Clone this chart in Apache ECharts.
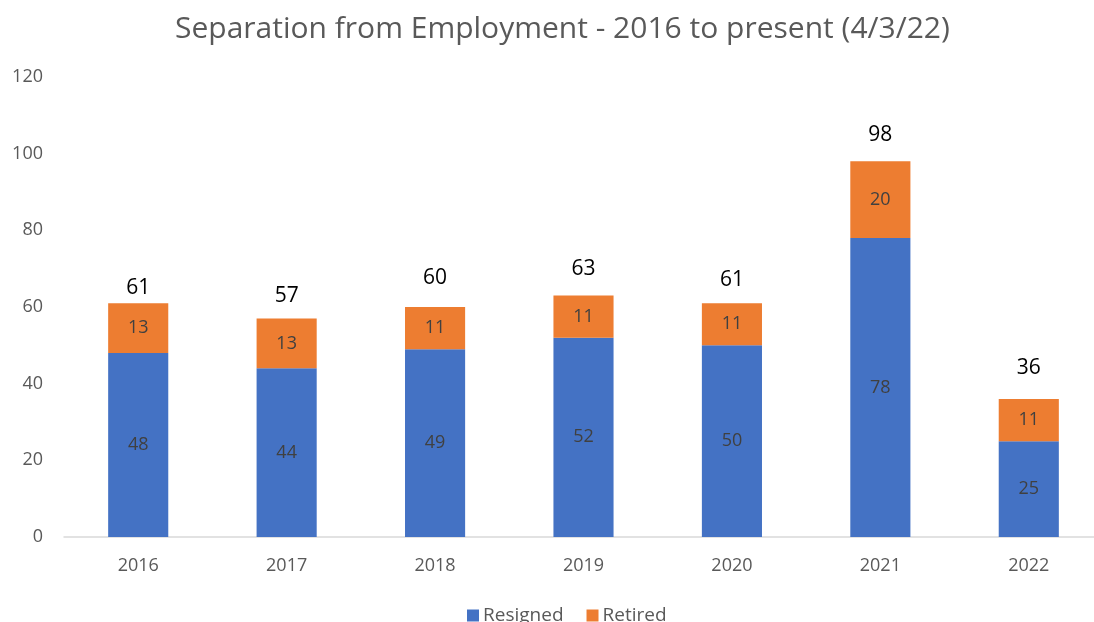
<!DOCTYPE html>
<html>
<head>
<meta charset="utf-8">
<script src="https://cdn.jsdelivr.net/npm/echarts@6/dist/echarts.min.js"></script>
<style>html,body{margin:0;padding:0;background:#fff}#c{width:1094px;height:622px}</style>
</head>
<body>
<div id="c"></div>
<script>
const title = 'Separation from Employment - 2016 to present (4/3/22)';
const categories = ['2016', '2017', '2018', '2019', '2020', '2021', '2022'];
const resigned = [48, 44, 49, 52, 50, 78, 25];
const retired = [13, 13, 11, 11, 11, 20, 11];
const totals = [61, 57, 60, 63, 61, 98, 36];
const yTicks = { min: 0, max: 120, interval: 20 };
// per-bar gap (px) of the total label above each bar, as placed in the original
const totalLabelGap = [17, 24, 30, 28, 25, 28, 32];

const FONT = '"Open Sans", sans-serif';
const chart = echarts.init(document.getElementById('c'), null, { renderer: 'canvas' });
chart.setOption({
  animation: false,
  textStyle: { fontFamily: FONT },
  title: {
    text: title, left: 170, top: 9,
    textStyle: { fontFamily: FONT, fontSize: 30, fontWeight: 'normal', color: '#595959' }
  },
  legend: {
    data: ['Resigned', 'Retired'], top: 601, left: 462,
    itemWidth: 12, itemHeight: 12, itemGap: 23,
    icon: 'rect',
    textStyle: { fontFamily: FONT, fontSize: 19, color: '#595959', padding: [0, 0, 0, -1] }
  },
  grid: { left: 64, top: 77, bottom: 85, right: -9, outerBoundsMode: 'none', containLabel: false },
  xAxis: {
    type: 'category', data: categories,
    axisLine: { lineStyle: { color: '#d9d9d9', width: 1.5 } },
    axisTick: { show: false },
    axisLabel: { fontFamily: FONT, fontSize: 18, color: '#595959', margin: 20 }
  },
  yAxis: {
    type: 'value', min: yTicks.min, max: yTicks.max, interval: yTicks.interval,
    splitLine: { show: false },
    axisLine: { show: false }, axisTick: { show: false },
    axisLabel: { fontFamily: FONT, fontSize: 18, color: '#595959', margin: 21 }
  },
  series: [
    {
      name: 'Resigned', type: 'bar', stack: 's', data: resigned, barWidth: '40.5%',
      itemStyle: { color: '#4472C4' },
      label: { show: true, position: 'inside', fontFamily: FONT, fontSize: 18, color: '#404040' }
    },
    {
      name: 'Retired', type: 'bar', stack: 's', data: retired,
      itemStyle: { color: '#ED7D31' },
      label: { show: true, position: 'inside', fontFamily: FONT, fontSize: 18, color: '#404040' }
    },
    {
      name: 'Total', type: 'bar', stack: 's',
      data: totals.map((t, i) => ({
        value: 0,
        label: { distance: totalLabelGap[i] - 12 }
      })),
      itemStyle: { color: 'transparent' },
      label: {
        show: true, position: 'top',
        formatter: p => totals[p.dataIndex],
        fontFamily: FONT, fontSize: 21, color: '#000'
      }
    }
  ]
});
</script>
</body>
</html>
